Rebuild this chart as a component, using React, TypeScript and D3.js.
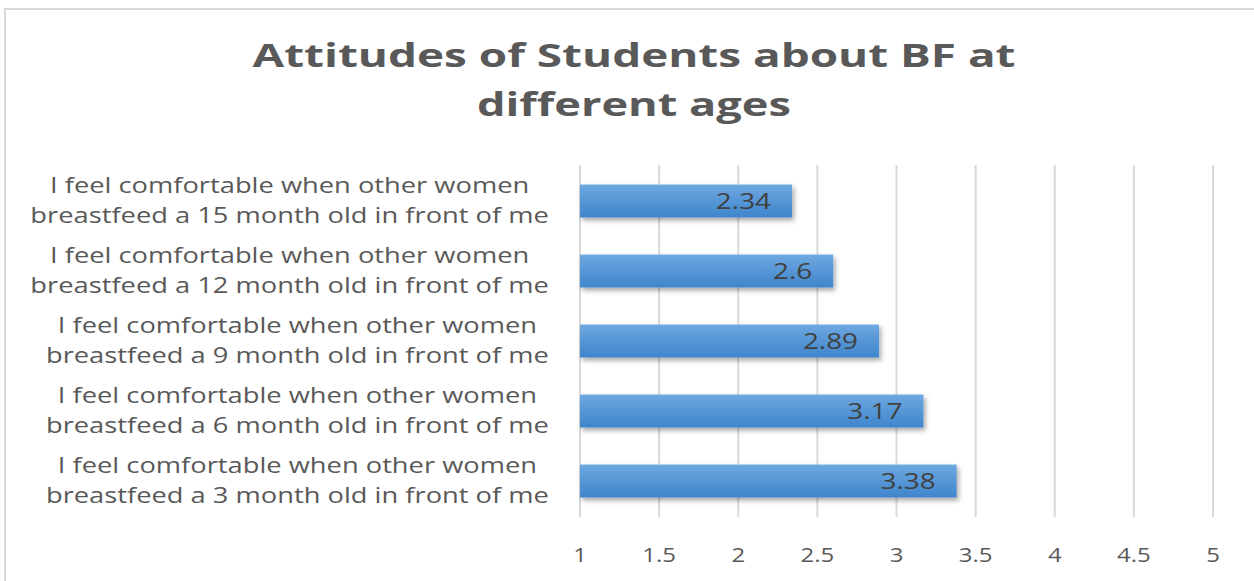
import React from "react";
import * as d3 from "d3";

const titleLines = ["Attitudes of Students about BF at", "different ages"];
const categories = [
  ["I feel comfortable when other women", "breastfeed a 15 month old in front of me"],
  ["I feel comfortable when other women", "breastfeed a 12 month old in front of me"],
  ["I feel comfortable when other women", "breastfeed a 9 month old in front of me"],
  ["I feel comfortable when other women", "breastfeed a 6 month old in front of me"],
  ["I feel comfortable when other women", "breastfeed a 3 month old in front of me"],
];
const values = [2.34, 2.6, 2.89, 3.17, 3.38];
const valueLabels = ["2.34", "2.6", "2.89", "3.17", "3.38"];
const ticks = [1, 1.5, 2, 2.5, 3, 3.5, 4, 4.5, 5];
const tickLabels = ["1", "1.5", "2", "2.5", "3", "3.5", "4", "4.5", "5"];

const W = 1254;
const H = 581;
const FONT = "'Open Sans', 'Liberation Sans', sans-serif";

let canvasCtx: CanvasRenderingContext2D | null = null;
function measure(text: string, size: number, weight = "normal") {
  if (!canvasCtx) canvasCtx = document.createElement("canvas").getContext("2d");
  if (!canvasCtx) return text.length * size * 0.5;
  canvasCtx.font = `${weight} ${size}px 'Open Sans'`;
  return canvasCtx.measureText(text).width;
}

export default function App() {
  const x = d3.scaleLinear().domain([1, 5]).range([580, 1213]);
  const y = d3
    .scaleBand<number>()
    .domain(d3.range(values.length))
    .range([166, 516])
    .paddingInner(0.53)
    .paddingOuter(0.265);
  const band = d3.scaleBand<number>().domain(d3.range(values.length)).range([166, 516]);

  const catSize = 21;
  const catSx = 1.3;
  const valSize = 21;
  const valSx = 1.33;
  const tickSize = 20;
  const tickSx = 1.2;
  const titleWidths = [763, 314];

  return (
    <svg
      width={W}
      height={H}
      style={{ position: "absolute", left: 0, top: 0, background: "#fff" }}
    >
      <defs>
        <linearGradient id="barGrad" x1="0" y1="0" x2="0" y2="1">
          <stop offset="0%" stopColor="#6ea8e0" />
          <stop offset="100%" stopColor="#3f85cc" />
        </linearGradient>
        <filter id="shadow" x="-5%" y="-20%" width="112%" height="160%">
          <feDropShadow dx="2" dy="3" stdDeviation="2.5" floodColor="#000" floodOpacity="0.35" />
        </filter>
      </defs>
      <rect x={5} y={9} width={1300} height={700} fill="#fff" stroke="#d9d9d9" strokeWidth={2} />

      {titleLines.map((t, i) => (
        <text
          key={i}
          x={634}
          y={67 + i * 49}
          textAnchor="middle"
          fontFamily={FONT}
          fontWeight="bold"
          fontSize={33}
          fill="#595959"
          textLength={titleWidths[i]}
          lengthAdjust="spacingAndGlyphs"
        >
          {t}
        </text>
      ))}

      {ticks.map((t, i) => (
        <line key={i} x1={x(t)} x2={x(t)} y1={165} y2={517} stroke="#d9d9d9" strokeWidth={2} />
      ))}

      {values.map((v, i) => (
        <rect
          key={i}
          x={x(1)}
          y={y(i)}
          width={x(v) - x(1)}
          height={y.bandwidth()}
          fill="url(#barGrad)"
          filter="url(#shadow)"
        />
      ))}

      {values.map((v, i) => (
        <text
          key={i}
          transform={`translate(${x(v) - 21},${(y(i) as number) + y.bandwidth() / 2 + 7.5}) scale(${valSx},1)`}
          textAnchor="end"
          fontFamily={FONT}
          fontSize={valSize}
          fill="#404040"
        >
          {valueLabels[i]}
        </text>
      ))}

      {categories.map((lines, i) => {
        const cy = (band(i) as number) + band.bandwidth() / 2;
        const maxW = Math.max(...lines.map((l) => measure(l, catSize))) * catSx;
        const cx = 549 - maxW / 2;
        return (
          <g key={i}>
            <text
              transform={`translate(${cx},${cy - 8}) scale(${catSx},1)`}
              textAnchor="middle"
              fontFamily={FONT}
              fontSize={catSize}
              fill="#595959"
            >
              {lines[0]}
            </text>
            <text
              transform={`translate(${cx},${cy + 21.5}) scale(${catSx},1)`}
              textAnchor="middle"
              fontFamily={FONT}
              fontSize={catSize}
              fill="#595959"
            >
              {lines[1]}
            </text>
          </g>
        );
      })}

      {ticks.map((t, i) => (
        <text
          key={i}
          transform={`translate(${x(t)},562) scale(${tickSx},1)`}
          textAnchor="middle"
          fontFamily={FONT}
          fontSize={tickSize}
          fill="#595959"
        >
          {tickLabels[i]}
        </text>
      ))}
    </svg>
  );
}
